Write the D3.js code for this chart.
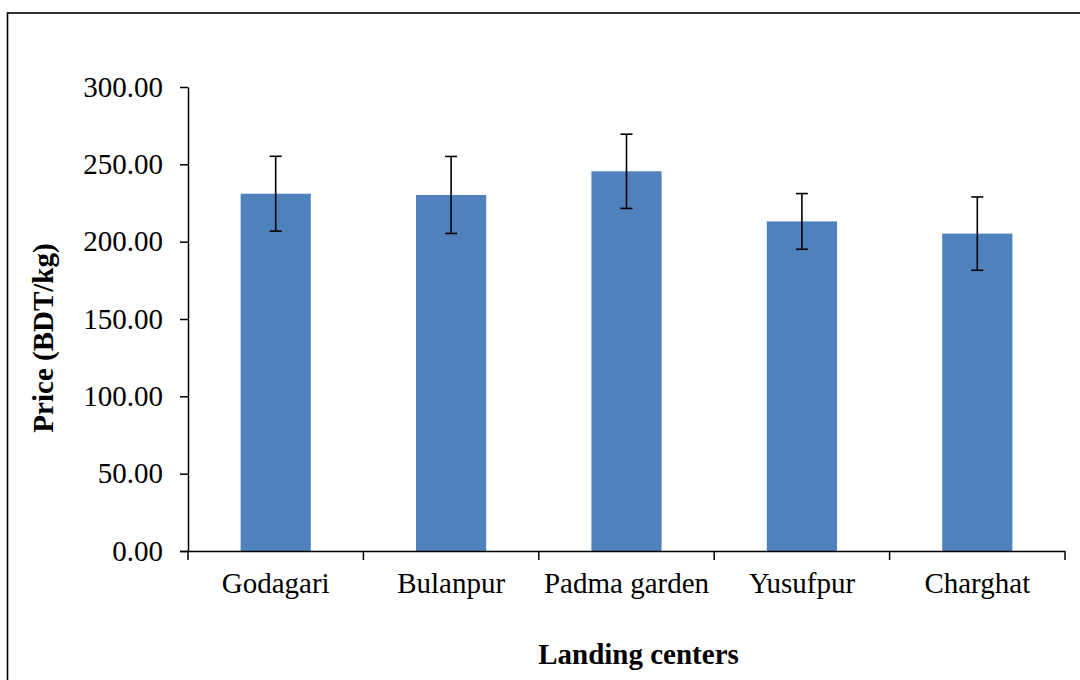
<!DOCTYPE html>
<html>
<head>
<meta charset="utf-8">
<script src="https://cdn.jsdelivr.net/npm/d3@7"></script>
<style>
  html, body { margin: 0; padding: 0; background: #fff; }
  svg { display: block; }
  text { font-family: "Liberation Serif", "Times New Roman", serif; fill: #000; }
</style>
</head>
<body>
<svg id="chart" width="1080" height="680"></svg>
<script>
// Data
const categories = ["Godagari", "Bulanpur", "Padma garden", "Yusufpur", "Charghat"];
const prices = [231.0, 230.2, 245.5, 213.1, 205.2];
const errors = [24.2, 24.9, 24.0, 18.0, 23.7];
const yTicks = [0, 50, 100, 150, 200, 250, 300];
const xTitle = "Landing centers";
const yTitle = "Price (BDT/kg)";

const svg = d3.select("#chart");
const mLeft = 188, mRight = 1065, mTop = 87, mBottom = 551;
const fontSize = 29;

// Frame
svg.append("rect")
  .attr("x", 7.5).attr("y", 13)
  .attr("width", 1100).attr("height", 700)
  .attr("fill", "none").attr("stroke", "#000").attr("stroke-width", 1.6);

const x = d3.scaleBand().domain(categories).range([mLeft, mRight])
  .paddingInner(0.6).paddingOuter(0.3);
const y = d3.scaleLinear().domain([0, 300]).range([mBottom, mTop]);

// Bars
svg.append("g").selectAll("rect").data(categories).join("rect")
  .attr("x", d => x(d))
  .attr("y", (d, i) => y(prices[i]))
  .attr("width", x.bandwidth())
  .attr("height", (d, i) => y(0) - y(prices[i]))
  .attr("fill", "#4F81BD");

// Error bars
const eg = svg.append("g").attr("stroke", "#000").attr("stroke-width", 1.6);
categories.forEach((c, i) => {
  const cx = x(c) + x.bandwidth() / 2;
  const y1 = y(prices[i] + errors[i]);
  const y2 = y(prices[i] - errors[i]);
  eg.append("line").attr("x1", cx).attr("x2", cx).attr("y1", y1).attr("y2", y2);
  eg.append("line").attr("x1", cx - 6).attr("x2", cx + 6).attr("y1", y1).attr("y2", y1);
  eg.append("line").attr("x1", cx - 6).attr("x2", cx + 6).attr("y1", y2).attr("y2", y2);
});

// Y axis
const yAxis = d3.axisLeft(y).tickValues(yTicks).tickFormat(d3.format(".2f"))
  .tickSize(8).tickSizeOuter(0).tickPadding(17);
const yg = svg.append("g").attr("transform", `translate(${mLeft},0)`).call(yAxis);
yg.select(".domain").attr("stroke", "#000").attr("stroke-width", 1.5);
yg.selectAll(".tick line").attr("stroke", "#000").attr("stroke-width", 1.5);
yg.selectAll(".tick text").attr("font-size", fontSize)
  .style("font-family", "'Liberation Serif', 'Times New Roman', serif").attr("fill", "#000");

// X axis (labels)
const xAxis = d3.axisBottom(x).tickSize(0).tickSizeOuter(0).tickPadding(21);
const xg = svg.append("g").attr("transform", `translate(0,${mBottom})`).call(xAxis);
xg.select(".domain").attr("stroke", "#000").attr("stroke-width", 1.5)
  .attr("d", `M${mLeft - 8},0.5H${mRight}`);
xg.selectAll(".tick text").attr("font-size", fontSize)
  .style("font-family", "'Liberation Serif', 'Times New Roman', serif").attr("fill", "#000");

// X axis separator ticks at category boundaries
const bounds = d3.range(categories.length + 1).map(i => x.range()[0] + i * x.step());
svg.append("g").selectAll("line").data(bounds).join("line")
  .attr("x1", d => d).attr("x2", d => d)
  .attr("y1", mBottom).attr("y2", mBottom + 9)
  .attr("stroke", "#000").attr("stroke-width", 1.5);

// Titles
svg.append("text")
  .attr("x", (mLeft + mRight) / 2 + 12).attr("y", 664)
  .attr("text-anchor", "middle")
  .attr("font-size", fontSize).attr("font-weight", "bold")
  .text(xTitle);

svg.append("text")
  .attr("transform", `translate(53,338) rotate(-90)`)
  .attr("text-anchor", "middle")
  .attr("font-size", fontSize).attr("font-weight", "bold")
  .text(yTitle);
</script>
</body>
</html>
